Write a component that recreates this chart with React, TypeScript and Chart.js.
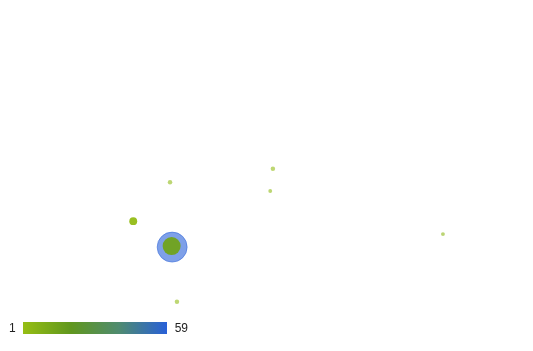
import React, { useEffect, useRef } from "react";
import { Chart, registerables } from "chart.js";

Chart.register(...registerables);

// Locations (map coordinates in percent of the view: x left→right, y bottom→top)
const places = ["A", "B", "C", "D", "E", "F", "G", "H"];
const xs = [31.9, 51.2, 50.7, 25.0, 32.3, 32.2, 33.2, 83.1];
const ys = [48.1, 51.9, 45.6, 37.0, 29.6, 29.9, 14.0, 33.3];
const values = [3, 2, 3, 2, 59, 14, 2, 4];
const sizes = [0.8, 0.8, 0.6, 2.5, 36, 13, 0.8, 0.6];
const legendMin = 1;
const legendMax = 59;

const stops: [number, number, number][] = [
  [150, 190, 20],
  [95, 150, 30],
  [80, 140, 110],
  [40, 96, 216],
];

function colorFor(v: number, a: number) {
  const t = Math.max(0, Math.min(1, (v - legendMin) / (legendMax - legendMin)));
  const seg = t * (stops.length - 1);
  const i = Math.min(stops.length - 2, Math.floor(seg));
  const f = seg - i;
  const c = stops[i].map((s, k) => Math.round(s + (stops[i + 1][k] - s) * f));
  return `rgba(${c[0]},${c[1]},${c[2]},${a})`;
}

export default function App() {
  const ref = useRef<HTMLCanvasElement>(null);
  useEffect(() => {
    document.body.style.margin = "0";
    const order = values.map((_, i) => i).sort((a, b) => sizes[b] - sizes[a]);
    const data = order.map((i) => ({ x: xs[i], y: ys[i], r: 2.5 * Math.sqrt(sizes[i]) }));
    const bg = order.map((i) => colorFor(values[i], values[i] > 30 ? 0.6 : sizes[i] < 1 ? 0.6 : 0.95));
    const bc = order.map((i) => colorFor(values[i], 0.5));
    const chart = new Chart(ref.current!, {
      type: "bubble",
      data: {
        datasets: [
          {
            label: "values",
            data,
            backgroundColor: bg,
            borderColor: bc,
            borderWidth: order.map((i) => (values[i] > 30 ? 1 : 0)),
          },
        ],
      },
      options: {
        animation: false,
        responsive: false,
        maintainAspectRatio: false,
        layout: { padding: 0, autoPadding: false },
        plugins: { legend: { display: false }, tooltip: { enabled: false } },
        scales: {
          x: { type: "linear", min: 0, max: 100, display: false },
          y: { type: "linear", min: 0, max: 100, display: false },
        },
      },
    });
    return () => chart.destroy();
  }, []);

  return (
    <div style={{ position: "relative", width: 533, height: 351, background: "#fff" }}>
      <canvas ref={ref} width={533} height={351} style={{ display: "block" }} />
      <div
        style={{
          position: "absolute",
          left: 9,
          top: 321,
          fontFamily: "'Liberation Sans', Arial, sans-serif",
          fontSize: 12,
          color: "#222",
          display: "flex",
          alignItems: "center",
        }}
      >
        <span>{legendMin}</span>
        <div
          style={{
            width: 144,
            height: 12,
            marginLeft: 7,
            marginRight: 8,
            background: `linear-gradient(to right, ${colorFor(legendMin, 1)}, ${colorFor(
              20,
              1
            )}, ${colorFor(40, 1)}, ${colorFor(legendMax, 1)})`,
          }}
        />
        <span>{legendMax}</span>
      </div>
    </div>
  );
}
